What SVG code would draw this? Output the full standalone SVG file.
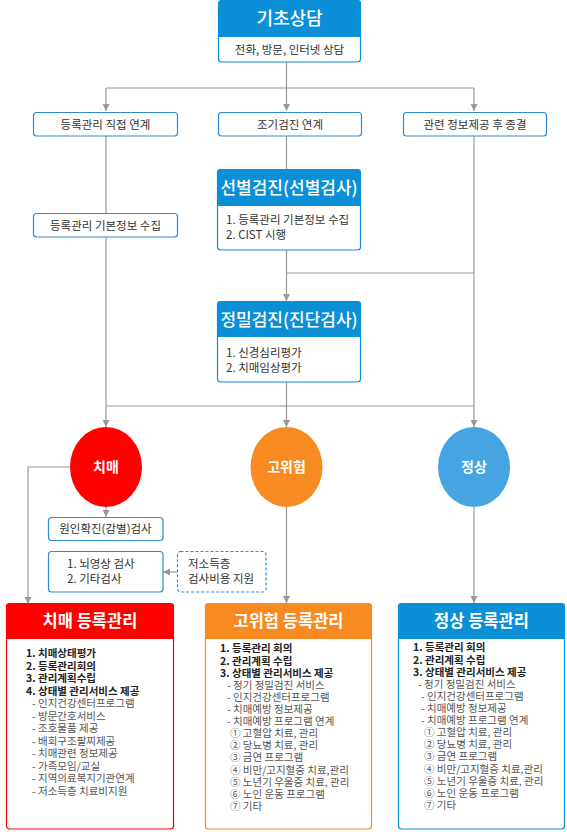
<svg xmlns="http://www.w3.org/2000/svg" width="567" height="832" viewBox="0 0 567 832">
<style>
text{font-family:"Noto Sans CJK KR","Noto Sans",sans-serif;}
.box{fill:#fff;stroke:#2E8BD3;stroke-width:1.2;}
.hbox{fill:#fff;stroke:#0B8FD7;stroke-width:1.2;}
.hdr{fill:#0B8FD7;}
.t12{font-size:11.5px;fill:#333;}
.mid{text-anchor:middle;}
.ttl{font-size:17px;fill:#fff;font-weight:500;text-anchor:middle;}
.rtl{font-size:16.5px;fill:#fff;font-weight:700;text-anchor:middle;}
.ctl{font-size:14px;fill:#fff;font-weight:700;text-anchor:middle;}
.b{font-size:10.5px;fill:#222;font-weight:700;}
.s{font-size:10.5px;fill:#555;}
.ln{fill:none;stroke:#999;stroke-width:1.2;}
</style>
<defs>
<marker id="ar" viewBox="0 0 10 10" refX="10" refY="5" markerWidth="7" markerHeight="7" markerUnits="userSpaceOnUse" orient="auto">
<path d="M0 0L10 5L0 10z" fill="#999"/>
</marker>
</defs>

<g id="connectors">
<path class="ln" d="M286.5 62V88M106 88H474"/>
<path class="ln" d="M106 88V111" marker-end="url(#ar)"/>
<path class="ln" d="M286.5 88V111" marker-end="url(#ar)"/>
<path class="ln" d="M474 88V111" marker-end="url(#ar)"/>
<path class="ln" d="M106 136V213M286.5 136V169M286.5 273H474M106 406H474"/>
<path class="ln" d="M106 237V427" marker-end="url(#ar)"/>
<path class="ln" d="M286.5 250V301" marker-end="url(#ar)"/>
<path class="ln" d="M286.5 382V427" marker-end="url(#ar)"/>
<path class="ln" d="M474 136V427" marker-end="url(#ar)"/>
<path class="ln" d="M70 467H28V604" marker-end="url(#ar)"/>
<path class="ln" d="M106 507V517" marker-end="url(#ar)"/>
<path class="ln" d="M177 572H163" marker-end="url(#ar)"/>
<path class="ln" d="M286.5 507V603" marker-end="url(#ar)"/>
<path class="ln" d="M474 507V603" marker-end="url(#ar)"/>
</g>

<g id="n-basic">
<rect class="hbox" x="218.5" y="0.5" width="142" height="61.5" rx="3"/>
<path class="hdr" d="M218 3.5a3 3 0 0 1 3-3h137a3 3 0 0 1 3 3V37H218z"/>
<text class="ttl" x="289.5" y="25" style="font-size:18px">기초상담</text>
<text class="t12 mid" x="289.5" y="54">전화, 방문, 인터넷 상담</text>
</g>

<g id="n-direct">
<rect class="box" x="33.5" y="112.5" width="144" height="23.5" rx="3"/>
<text class="t12 mid" x="105.5" y="128.5">등록관리 직접 연계</text>
</g>
<g id="n-early">
<rect class="box" x="218.5" y="112.5" width="143" height="23.5" rx="3"/>
<text class="t12 mid" x="290" y="128.5">조기검진 연계</text>
</g>
<g id="n-info">
<rect class="box" x="403.5" y="112.5" width="143" height="23.5" rx="3"/>
<text class="t12 mid" x="475" y="128.5">관련 정보제공 후 종결</text>
</g>

<g id="n-collect">
<rect class="box" x="33.5" y="213.5" width="144" height="23.5" rx="3"/>
<text class="t12 mid" x="105.5" y="229.5">등록관리 기본정보 수집</text>
</g>

<g id="n-screen">
<rect class="hbox" x="217.5" y="169.5" width="143" height="80.5" rx="3"/>
<path class="hdr" d="M217 172.5a3 3 0 0 1 3-3h138a3 3 0 0 1 3 3V206H217z"/>
<text class="ttl" x="289" y="194">선별검진(선별검사)</text>
<text class="t12" x="226" y="224">1. 등록관리 기본정보 수집</text>
<text class="t12" x="226" y="239">2. CIST 시행</text>
</g>

<g id="n-diag">
<rect class="hbox" x="217.5" y="301.5" width="143" height="80.5" rx="3"/>
<path class="hdr" d="M217 304.5a3 3 0 0 1 3-3h138a3 3 0 0 1 3 3V337H217z"/>
<text class="ttl" x="289" y="325.5">정밀검진(진단검사)</text>
<text class="t12" x="226" y="357">1. 신경심리평가</text>
<text class="t12" x="226" y="372">2. 치매임상평가</text>
</g>

<g id="n-dementia">
<ellipse cx="106" cy="467" rx="36" ry="40" fill="#FF0000"/>
<text class="ctl" x="106" y="472">치매</text>
</g>
<g id="n-risk">
<ellipse cx="286.5" cy="467" rx="36" ry="40" fill="#F78A21"/>
<text class="ctl" x="286.5" y="472">고위험</text>
</g>
<g id="n-normal">
<ellipse cx="474" cy="467" rx="36" ry="40" fill="#45A4E1"/>
<text class="ctl" x="474" y="472">정상</text>
</g>

<g id="n-cause">
<rect class="box" x="48.5" y="517.5" width="114.5" height="23" rx="3"/>
<text class="t12 mid" x="105.5" y="533">원인확진(감별)검사</text>
</g>
<g id="n-tests">
<rect class="box" x="48.5" y="551.5" width="114.5" height="40.5" rx="3"/>
<text class="t12" x="67" y="568">1. 뇌영상 검사</text>
<text class="t12" x="67" y="583">2. 기타검사</text>
</g>
<g id="n-support">
<rect x="177.5" y="551.5" width="88.5" height="40.5" rx="3" fill="#fff" stroke="#2E8BD3" stroke-width="1.2" stroke-dasharray="3,2"/>
<text class="t12" x="188" y="568">저소득층</text>
<text class="t12" x="188" y="583">검사비용 지원</text>
</g>

<g id="n-reg-dementia">
<rect x="6.5" y="603.5" width="167" height="225.5" rx="3" fill="#fff" stroke="#FF0000" stroke-width="1.2"/>
<path d="M6 606.5a3 3 0 0 1 3-3h162a3 3 0 0 1 3 3V639H6z" fill="#FF0000"/>
<text class="rtl" x="90" y="627">치매 등록관리</text>
<text class="b" x="26" y="657">1. 치매상태평가</text>
<text class="b" x="26" y="669.5">2. 등록관리회의</text>
<text class="b" x="26" y="682">3. 관리계획수립</text>
<text class="b" x="26" y="694.5">4. 상태별 관리서비스 제공</text>
<text class="s" x="32" y="707">-  인지건강센터프로그램</text>
<text class="s" x="32" y="719.5">-  방문간호서비스</text>
<text class="s" x="32" y="732">-  조호물품 제공</text>
<text class="s" x="32" y="744.5">-  배회구조팔찌제공</text>
<text class="s" x="32" y="757">-  치매관련 정보제공</text>
<text class="s" x="32" y="769.5">-  가족모임/교실</text>
<text class="s" x="32" y="782">-  지역의료복지기관연계</text>
<text class="s" x="32" y="794.5">-  저소득층 치료비지원</text>
</g>

<g id="n-reg-risk">
<rect x="205.5" y="603.5" width="166" height="225.5" rx="3" fill="#fff" stroke="#F78A21" stroke-width="1.2"/>
<path d="M205 606.5a3 3 0 0 1 3-3h161a3 3 0 0 1 3 3V639H205z" fill="#F78A21"/>
<text class="rtl" x="288.5" y="627">고위험 등록관리</text>
<text class="b" x="220" y="652">1. 등록관리 회의</text>
<text class="b" x="220" y="664.5">2. 관리계획 수립</text>
<text class="b" x="220" y="677">3. 상태별 관리서비스 제공</text>
<text class="s" x="227" y="689">-  정기 정밀검진 서비스</text>
<text class="s" x="227" y="701">-  인지건강센터프로그램</text>
<text class="s" x="227" y="713">-  치매예방 정보제공</text>
<text class="s" x="227" y="725">-  치매예방 프로그램 연계</text>
<text class="s" x="230" y="737">① 고혈압 치료, 관리</text>
<text class="s" x="230" y="749">② 당뇨병 치료, 관리</text>
<text class="s" x="230" y="761">③ 금연 프로그램</text>
<text class="s" x="230" y="773.5">④ 비만/고지혈증 치료,관리</text>
<text class="s" x="230" y="785.5">⑤ 노년기 우울증 치료, 관리</text>
<text class="s" x="230" y="797.5">⑥ 노인 운동 프로그램</text>
<text class="s" x="230" y="809.5">⑦ 기타</text>
</g>

<g id="n-reg-normal">
<rect x="398.5" y="603.5" width="166" height="225.5" rx="3" fill="#fff" stroke="#0B8FD7" stroke-width="1.2"/>
<path d="M398 606.5a3 3 0 0 1 3-3h161a3 3 0 0 1 3 3V639H398z" fill="#0B8FD7"/>
<text class="rtl" x="481.5" y="627">정상 등록관리</text>
<text class="b" x="413" y="651">1. 등록관리 회의</text>
<text class="b" x="413" y="663.5">2. 관리계획 수립</text>
<text class="b" x="413" y="676">3. 상태별 관리서비스 제공</text>
<text class="s" x="418" y="688">- 정기 정밀검진 서비스</text>
<text class="s" x="421" y="700">-  인지건강센터프로그램</text>
<text class="s" x="421" y="712">-  치매예방 정보제공</text>
<text class="s" x="421" y="724">-  치매예방 프로그램 연계</text>
<text class="s" x="424" y="736">① 고혈압 치료, 관리</text>
<text class="s" x="424" y="748">② 당뇨병 치료, 관리</text>
<text class="s" x="424" y="760">③ 금연 프로그램</text>
<text class="s" x="424" y="772.5">④ 비만/고지혈증 치료,관리</text>
<text class="s" x="424" y="784.5">⑤ 노년기 우울증 치료, 관리</text>
<text class="s" x="424" y="796.5">⑥ 노인 운동 프로그램</text>
<text class="s" x="424" y="808.5">⑦ 기타</text>
</g>
</svg>
